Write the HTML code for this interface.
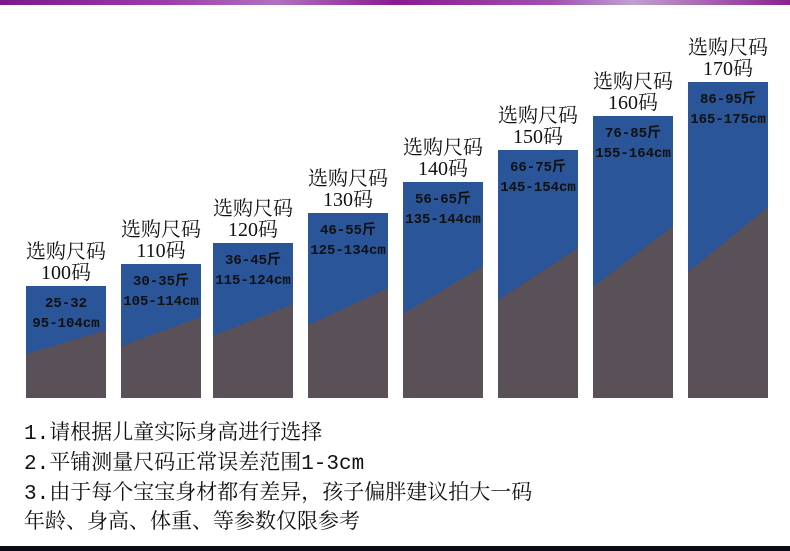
<!DOCTYPE html><html><head><meta charset="utf-8"><style>
body{margin:0;width:790px;height:551px;background:#fff;position:relative;overflow:hidden;font-family:"Liberation Serif","Noto Serif CJK SC",serif}
.top{position:absolute;left:0;top:0;width:790px;height:5px;background:linear-gradient(90deg,#7a1a8a,#9a3aa8 20%,#b070c0 35%,#8a1a90 50%,#a050b0 70%,#c0a0d0 80%,#8a2090)}
.bot{position:absolute;left:0;top:546px;width:790px;height:5px;background:#0c0c18}
.bar{position:absolute;width:80px;background:#2a5598;overflow:hidden}
.bar svg{position:absolute;left:0;top:0}
.t{position:absolute;width:120px;text-align:center;font-size:20px;line-height:21px;color:#111}
.in{position:absolute;left:-10px;width:100px;text-align:center;font-family:"Liberation Mono","Noto Sans CJK SC",monospace;font-weight:bold;font-size:14px;line-height:20px;color:#111;top:8px}
.n{position:absolute;left:24px;font-size:21px;color:#111;font-family:"Liberation Mono","Noto Serif CJK SC",serif;white-space:nowrap}
</style></head><body>
<div class="top"></div>
<div id="c"></div>
<div class="n" style="top:416px">1.请根据儿童实际身高进行选择</div>
<div class="n" style="top:446px">2.平铺测量尺码正常误差范围1-3cm</div>
<div class="n" style="top:476px">3.由于每个宝宝身材都有差异，孩子偏胖建议拍大一码</div>
<div class="n" style="top:505px">年龄、身高、体重、等参数仅限参考</div>
<div class="bot"></div>
<script>
var d=[[26,286,354,330,"100码","25-32","95-104cm"],[121,264,346,317,"110码","30-35斤","105-114cm"],[213,243,336,304,"120码","36-45斤","115-124cm"],[308,213,325,288,"130码","46-55斤","125-134cm"],[403,182,314,266,"140码","56-65斤","135-144cm"],[498,150,300,248,"150码","66-75斤","145-154cm"],[593,116,287,226,"160码","76-85斤","155-164cm"],[688,82,272,207,"170码","86-95斤","165-175cm"]];
var h="";d.forEach(function(b){var H=398-b[1];
h+='<div class="t" style="left:'+(b[0]-20)+'px;top:'+(b[1]-44)+'px">选购尺码<br>'+b[4]+'</div>';
h+='<div class="bar" style="left:'+b[0]+'px;top:'+b[1]+'px;height:'+H+'px"><svg width="80" height="'+H+'"><polygon points="0,'+(b[2]-b[1])+' 80,'+(b[3]-b[1])+' 80,'+H+' 0,'+H+'" fill="#5a5058"/></svg><div class="in">'+b[5]+'<br>'+b[6]+'</div></div>';});
document.getElementById("c").innerHTML=h;
</script></body></html>
